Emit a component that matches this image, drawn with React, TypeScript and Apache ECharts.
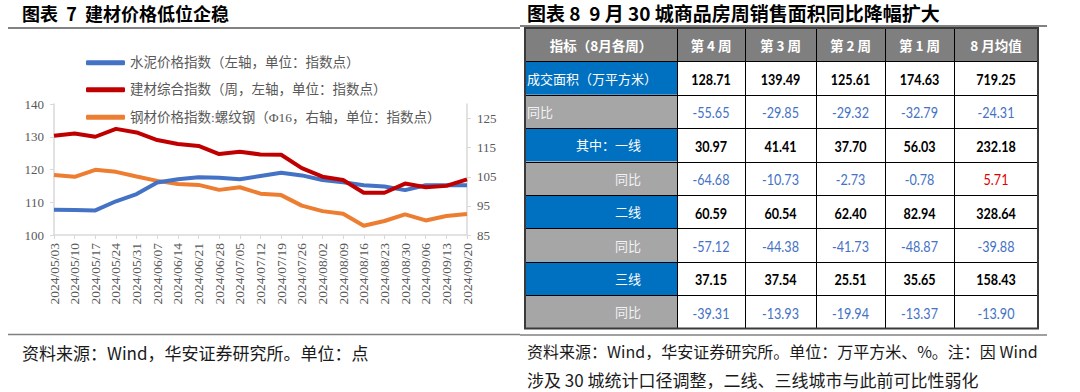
import React, { useEffect, useRef } from "react";
import * as echarts from "echarts";

// ---------- Chart 7 data ----------
const dates = [
  "2024/05/03", "2024/05/10", "2024/05/17", "2024/05/24", "2024/05/31",
  "2024/06/07", "2024/06/14", "2024/06/21", "2024/06/28", "2024/07/05",
  "2024/07/12", "2024/07/19", "2024/07/26", "2024/08/02", "2024/08/09",
  "2024/08/16", "2024/08/23", "2024/08/30", "2024/09/06", "2024/09/13",
  "2024/09/20",
];
const cementIndex = [107.7, 107.6, 107.5, 110.3, 112.5, 116.0, 117.0, 117.6, 117.5, 117.0, 118.0, 119.0, 118.2, 116.8, 116.1, 115.2, 114.8, 113.7, 115.2, 115.2, 115.2];
const buildingIndex = [130.3, 131.0, 130.0, 132.4, 131.3, 129.0, 127.8, 127.2, 124.7, 125.4, 124.6, 124.5, 120.4, 117.8, 116.8, 112.9, 112.9, 115.7, 114.6, 115.0, 117.0];
const rebarIndex = [105.6, 105.0, 107.4, 106.7, 105.1, 103.6, 102.5, 102.2, 100.5, 101.4, 99.2, 98.7, 95.1, 93.2, 92.3, 88.2, 89.8, 92.1, 90.0, 91.5, 92.2];
const rightTickValues = [85, 95, 105, 115, 125];
const seriesNames = [
  "水泥价格指数（左轴，单位：指数点）",
  "建材综合指数（周，左轴，单位：指数点）",
  "钢材价格指数:螺纹钢（Φ16，右轴，单位：指数点）",
];

// ---------- Table 8 data ----------
const tableHeader = ["指标（8月各周）", "第 4 周", "第 3 周", "第 2 周", "第 1 周", "8 月均值"];
const rowLabels = ["成交面积（万平方米）", "同比", "其中：一线", "同比", "二线", "同比", "三线", "同比"];
const week4 = [128.71, -55.65, 30.97, -64.68, 60.59, -57.12, 37.15, -39.31];
const week3 = [139.49, -29.85, 41.41, -10.73, 60.54, -44.38, 37.54, -13.93];
const week2 = [125.61, -29.32, 37.7, -2.73, 62.4, -41.73, 25.51, -19.94];
const week1 = [174.63, -32.79, 56.03, -0.78, 82.94, -48.87, 35.65, -13.37];
const augAverage = [719.25, -24.31, 232.18, 5.71, 328.64, -39.88, 158.43, -13.9];

const title7 = "图表  7  建材价格低位企稳";
const title8 = "图表 8  9 月 30 城商品房周销售面积同比降幅扩大";
const source7 = "资料来源：Wind，华安证券研究所。单位：点";
const source8a = "资料来源：Wind，华安证券研究所。单位：万平方米、%。注：因 Wind";
const source8b = "涉及 30 城统计口径调整，二线、三线城市与此前可比性弱化";

const SERIF = "'Liberation Serif', 'Noto Sans CJK SC', serif";
const CJK = "'Noto Sans CJK SC', sans-serif";
const NUM = "Lato, 'Noto Sans', sans-serif";

function buildTable(): any[] {
  const colX = [525, 677, 745, 816, 885, 954, 1038];
  const top = 28;
  const rowH = 33.4;
  const nRows = rowLabels.length + 1;
  const bottom = top + rowH * nRows;
  const columns = [week4, week3, week2, week1, augAverage];
  const els: any[] = [];

  els.push({ type: "rect", shape: { x: colX[0], y: top, width: colX[6] - colX[0], height: rowH }, style: { fill: "#7F7F7F" } });
  tableHeader.forEach((h, c) => {
    els.push({
      type: "text",
      x: (colX[c] + colX[c + 1]) / 2,
      y: top + rowH / 2,
      style: { text: h, fill: "#FFFFFF", fontSize: 13.5, fontWeight: "bold", fontFamily: CJK, align: "center", verticalAlign: "middle" },
    });
  });

  rowLabels.forEach((lab, r) => {
    const y0 = top + rowH * (r + 1);
    const isYoY = r % 2 === 1;
    els.push({ type: "rect", shape: { x: colX[0], y: y0, width: colX[1] - colX[0], height: rowH }, style: { fill: isYoY ? "#A6A6A6" : "#0070C0" } });
    els.push({ type: "rect", shape: { x: colX[1], y: y0, width: colX[6] - colX[1], height: rowH }, style: { fill: "#FFFFFF" } });
    const leftAligned = r < 2;
    els.push({
      type: "text",
      x: leftAligned ? colX[0] + 2 : 641,
      y: y0 + rowH / 2,
      style: { text: lab, fill: isYoY ? "#F2F2F2" : "#FFFFFF", fontSize: 13, fontFamily: CJK, align: leftAligned ? "left" : "right", verticalAlign: "middle" },
    });
    columns.forEach((col, c) => {
      const v = col[r];
      const fill = isYoY ? (v < 0 ? "#4472C4" : "#E00000") : "#000000";
      els.push({
        type: "text",
        x: (colX[c + 1] + colX[c + 2]) / 2,
        y: y0 + rowH / 2 + 1,
        scaleX: 0.84,
        style: { text: v.toFixed(2), fill, fontSize: 15, fontWeight: isYoY ? "normal" : "bold", fontFamily: NUM, align: "center", verticalAlign: "middle" },
      });
    });
  });

  for (let r = 1; r < nRows; r++) {
    const y = Math.round(top + rowH * r) + 0.5;
    els.push({ type: "line", shape: { x1: colX[0], y1: y, x2: colX[6], y2: y }, style: { stroke: "#000000", lineWidth: 1 } });
  }
  for (let c = 1; c < colX.length - 1; c++) {
    const x = colX[c] + 0.5;
    els.push({ type: "line", shape: { x1: x, y1: top, x2: x, y2: bottom }, style: { stroke: "#000000", lineWidth: 1 } });
  }
  els.push({ type: "rect", shape: { x: colX[0], y: top, width: colX[6] - colX[0], height: bottom - top }, style: { fill: "none", stroke: "#3A3A3A", lineWidth: 2 } });
  return els;
}

export default function App() {
  const ref = useRef<HTMLDivElement>(null);

  useEffect(() => {
    if (!ref.current) return;
    const chart = echarts.init(ref.current, null, { renderer: "svg" });
    const lineColors = ["#4472C4", "#C00000", "#ED7D31"];
    const legendTops = [56, 83, 110.5];

    const graphic: any[] = [
      { type: "text", x: 22, y: 13, style: { text: title7, fill: "#000", fontSize: 18, fontWeight: "bold", fontFamily: CJK, verticalAlign: "middle" } },
      { type: "line", shape: { x1: 8, y1: 28, x2: 520, y2: 28 }, style: { stroke: "#595959", lineWidth: 1.5 } },
      { type: "line", shape: { x1: 8, y1: 334.5, x2: 520, y2: 334.5 }, style: { stroke: "#808080", lineWidth: 1.6 } },
      { type: "text", x: 22, y: 352, style: { text: source7, fill: "#1A1A1A", fontSize: 17, fontFamily: CJK, verticalAlign: "middle" } },

      { type: "text", x: 527, y: 12.5, style: { text: title8, fill: "#000", fontSize: 19, fontWeight: "bold", fontFamily: CJK, verticalAlign: "middle" } },
      { type: "line", shape: { x1: 520, y1: 26, x2: 1047, y2: 26 }, style: { stroke: "#595959", lineWidth: 1.5 } },
      { type: "line", shape: { x1: 520, y1: 335, x2: 1047, y2: 335 }, style: { stroke: "#808080", lineWidth: 1.6 } },
      { type: "text", x: 527, y: 351, style: { text: source8a, fill: "#1A1A1A", fontSize: 16, fontFamily: CJK, verticalAlign: "middle" } },
      { type: "text", x: 527, y: 379, style: { text: source8b, fill: "#1A1A1A", fontSize: 17, fontFamily: CJK, verticalAlign: "middle" } },
      ...buildTable(),
    ];

    chart.setOption({
      animation: false,
      backgroundColor: "#FFFFFF",
      textStyle: { fontFamily: SERIF },
      grid: { left: 54, top: 104, width: 413, height: 131, containLabel: false },
      legend: seriesNames.map((n, i) => ({
        data: [n],
        left: 86,
        top: legendTops[i],
        orient: "vertical",
        padding: 0,
        itemWidth: 39,
        itemHeight: 5,
        icon: "roundRect",
        selectedMode: false,
        textStyle: { fontSize: 13.5, color: "#595959", fontFamily: SERIF },
      })),
      xAxis: {
        type: "category",
        data: dates,
        boundaryGap: false,
        axisLine: { lineStyle: { color: "#D9D9D9", width: 1.5 } },
        axisTick: { show: true, interval: 0, length: 4, lineStyle: { color: "#D9D9D9" } },
        axisLabel: { interval: 0, rotate: 90, fontSize: 13.5, color: "#595959", margin: 8, fontFamily: SERIF },
        splitLine: { show: false },
      },
      yAxis: [
        {
          type: "value",
          min: 100,
          max: 140,
          interval: 10,
          axisLine: { show: true, lineStyle: { color: "#D9D9D9", width: 1.5 } },
          axisTick: { show: true, length: 4, lineStyle: { color: "#D9D9D9" } },
          axisLabel: { fontSize: 13, color: "#595959", margin: 10, fontFamily: SERIF },
          splitLine: { show: false },
        },
        {
          type: "value",
          min: 85,
          max: 130,
          interval: 10,
          position: "right",
          axisLine: { show: true, lineStyle: { color: "#D9D9D9", width: 1.5 } },
          axisTick: { show: true, length: 4, customValues: rightTickValues, lineStyle: { color: "#D9D9D9" } },
          axisLabel: { fontSize: 13, color: "#595959", margin: 10, fontFamily: SERIF, customValues: rightTickValues },
          splitLine: { show: false },
        },
      ],
      series: [
        { name: seriesNames[2], type: "line", yAxisIndex: 1, data: rebarIndex, symbol: "none", lineStyle: { width: 4, color: lineColors[2] }, itemStyle: { color: lineColors[2] } },
        { name: seriesNames[0], type: "line", yAxisIndex: 0, data: cementIndex, symbol: "none", lineStyle: { width: 4, color: lineColors[0] }, itemStyle: { color: lineColors[0] } },
        { name: seriesNames[1], type: "line", yAxisIndex: 0, data: buildingIndex, symbol: "none", lineStyle: { width: 4, color: lineColors[1] }, itemStyle: { color: lineColors[1] } },
      ],
      graphic: { elements: graphic.map((g) => ({ ...g, silent: true })) },
    });

    return () => chart.dispose();
  }, []);

  return (
    <div
      ref={ref}
      style={{ position: "absolute", left: 0, top: 0, width: 1080, height: 392, background: "#fff" }}
    />
  );
}
